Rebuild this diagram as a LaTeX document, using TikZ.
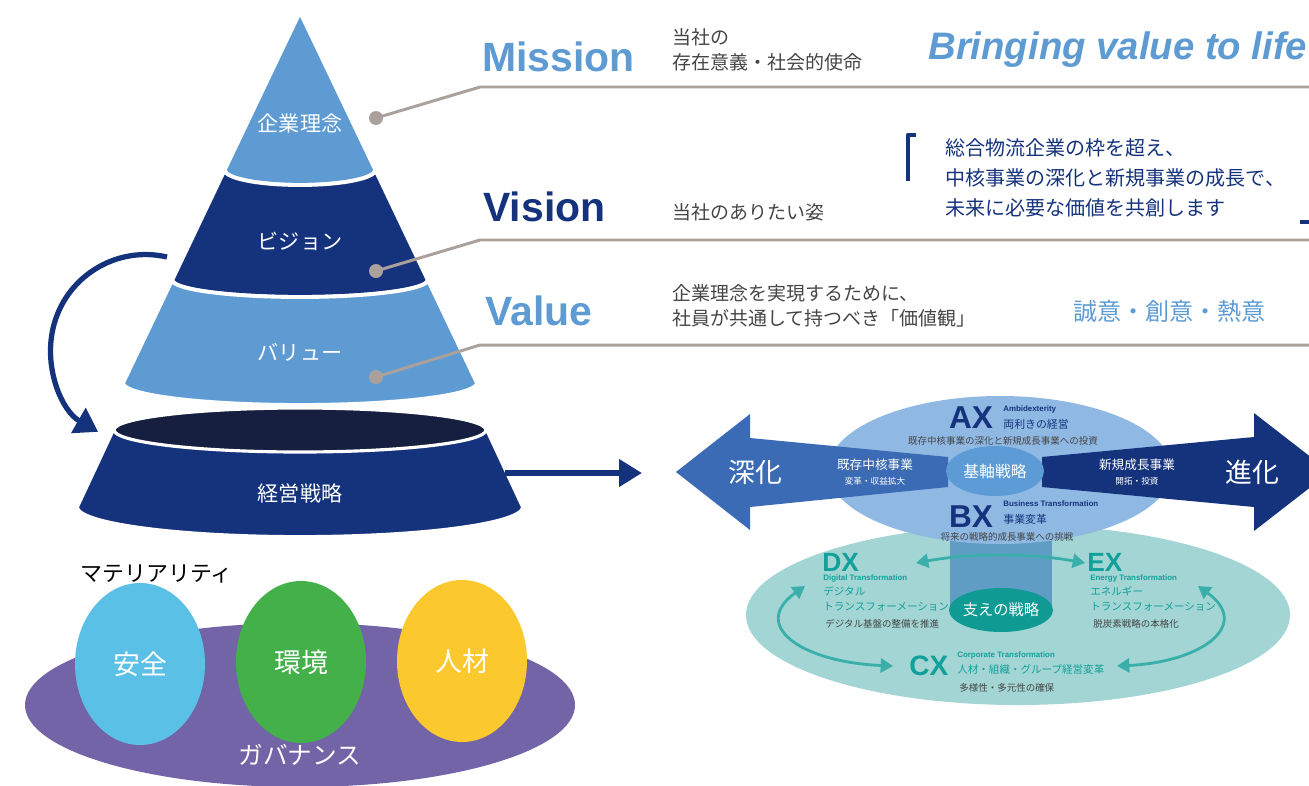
\documentclass[tikz,border=0pt]{standalone}
\usepackage{fontspec}
\setmainfont{Noto Sans CJK JP}
\newfontfamily\latinfont{Liberation Sans}
\newfontfamily\arialfont{Liberation Sans}
\usetikzlibrary{arrows.meta}
\definecolor{skyblue}{HTML}{5E9BD3}
\definecolor{navy}{HTML}{15337C}
\definecolor{darknavy}{HTML}{161F3F}
\definecolor{leadgray}{HTML}{ABA19C}
\definecolor{txtgray}{HTML}{454545}
\definecolor{govpurple}{HTML}{7264A6}
\definecolor{safeblue}{HTML}{5BC0E6}
\definecolor{envgreen}{HTML}{43B04A}
\definecolor{hryellow}{HTML}{FBC82D}
\definecolor{axblue}{HTML}{8FB8E3}
\definecolor{dxteal}{HTML}{A2D5D4}
\definecolor{pillar}{HTML}{5F9DC5}
\definecolor{supteal}{HTML}{0F9A94}
\definecolor{deepblue}{HTML}{3A6BB4}
\definecolor{coreblue}{HTML}{5C9BD5}
\definecolor{tealtxt}{HTML}{12A19A}
\definecolor{tealline}{HTML}{3AAFA9}
\newcommand{\fsz}[2]{\fontsize{#1}{#2}\selectfont}
\begin{document}
\begin{tikzpicture}[x=0.02cm,y=0.02cm,line join=round,
  tier/.style={draw=white,line width=2.2pt},
  tierlabel/.style={text=white,inner sep=0pt,font=\fsz{12pt}{12pt}},
  leader/.style={draw=leadgray,line width=1.7pt},
  heading/.style={anchor=west,inner sep=0pt,font=\latinfont\bfseries\fsz{23.3pt}{23.3pt}},
  note/.style={anchor=west,align=left,inner sep=0pt,text=txtgray,font=\fsz{10.8pt}{14.2pt}},
  blob/.style={text=white,inner sep=0pt,font=\fsz{15.3pt}{15.3pt}},
  xbig/.style={inner sep=0pt,font=\latinfont\bfseries\fsz{15pt}{15pt}},
  xsub/.style={anchor=west,inner sep=0pt,text height=3.3pt,text depth=0.9pt,font=\latinfont\bfseries\fsz{4.5pt}{4.5pt}},
  xjp/.style={anchor=west,inner sep=0pt,text height=5pt,text depth=0.8pt,font=\fsz{6pt}{8pt}},
  xgray/.style={inner sep=0pt,text height=4.5pt,text depth=0.7pt,text=txtgray,font=\fsz{5.4pt}{5.4pt}},
  tealarrow/.style={draw=tealline,line width=1.6pt,
    {Triangle[length=7pt,width=8pt]}-{Triangle[length=7pt,width=8pt]}}]
\useasboundingbox (0,0) rectangle (1309,-785);

% pyramid
\filldraw[tier,fill=skyblue] (300,-12) -- (224.6,-170) arc[start angle=180,end angle=360,x radius=75.4,y radius=15] -- cycle;
\filldraw[tier,fill=navy] (224.6,-170) arc[start angle=180,end angle=360,x radius=75.4,y radius=15]
  -- (427.8,-280) arc[start angle=0,end angle=-180,x radius=127.8,y radius=17] -- cycle;
\filldraw[tier,fill=skyblue] (172.2,-280) arc[start angle=180,end angle=360,x radius=127.8,y radius=17]
  -- (477,-383) arc[start angle=0,end angle=-180,x radius=177,y radius=22] -- cycle;
\node[tierlabel] (philo) at (300,-123) {企業理念};
\node[tierlabel] (vis) at (300,-241) {ビジョン};
\node[tierlabel] (val) at (300,-352) {バリュー};

% base
\filldraw[tier,fill=navy] (112,-432) -- (77,-507) arc[start angle=180,end angle=360,x radius=223,y radius=30]
  -- (488,-432) arc[start angle=0,end angle=180,x radius=188,y radius=22] -- cycle;
\filldraw[tier,fill=darknavy,line width=1.8pt] (300,-430) ellipse[x radius=186,y radius=22];
\node[tierlabel] (strategy) at (300,-493) {経営戦略};

\coordinate (loopStart) at (167,-257);
\draw[navy,line width=3pt,-{Triangle[length=13pt,width=16pt]}] (loopStart) arc[start angle=77,end angle=240,radius=95];
\coordinate (baseRight) at (505,-473);
\coordinate (flowEnd) at (642,-473);
\draw[navy,line width=3.2pt,-{Triangle[length=13pt,width=15pt]}] (baseRight) -- (flowEnd);

% leader lines
\coordinate (missionDot) at (376,-118);
\coordinate (missionKnee) at (480,-87);
\coordinate (missionEnd) at (1312,-87);
\coordinate (visionDot) at (376,-271);
\coordinate (visionKnee) at (480,-240);
\coordinate (visionEnd) at (1312,-240);
\coordinate (valueDot) at (376,-377);
\coordinate (valueKnee) at (480,-345);
\coordinate (valueEnd) at (1312,-345);
\draw[leader] (missionDot) -- (missionKnee) -- (missionEnd);
\draw[leader] (visionDot) -- (visionKnee) -- (visionEnd);
\draw[leader] (valueDot) -- (valueKnee) -- (valueEnd);
\fill[leadgray] (missionDot) circle[radius=7];
\fill[leadgray] (visionDot) circle[radius=7];
\fill[leadgray] (valueDot) circle[radius=7];

% mission / vision / value
\node[heading,text=skyblue] (missionHd) at (482,-57) {Mission};
\node[note] (missionNote) at (672,-50) {当社の\\存在意義・社会的使命};
\node[anchor=west,inner sep=0pt,text=skyblue,font=\arialfont\bfseries\itshape\fsz{21.8pt}{21.8pt}] (motto) at (928,-50) {Bringing value to life};
\node[heading,text=navy] (visionHd) at (483,-207) {Vision};
\node[note] (visionNote) at (672,-212) {当社のありたい姿};
\draw[navy,line width=2.4pt] (916,-135) -- (908,-135) -- (908,-181);
\draw[navy,line width=2.4pt] (1300,-222) -- (1313,-222) -- (1313,-176);
\node[anchor=west,align=left,inner sep=0pt,text=navy,font=\fsz{11.4pt}{17pt}] (visionTxt) at (945,-178)
  {総合物流企業の枠を超え、\\中核事業の深化と新規事業の成長で、\\未来に必要な価値を共創します};
\node[heading,text=skyblue] (valueHd) at (485,-311) {Value};
\node[note] (valueNote) at (672,-305.5) {企業理念を実現するために、\\社員が共通して持つべき「価値観」};
\node[anchor=west,inner sep=0pt,text=skyblue,font=\fsz{13.7pt}{13.7pt}] (valueTxt) at (1073,-311) {誠意・創意・熱意};

% materiality
\node[anchor=west,inner sep=0pt,font=\fsz{12.5pt}{12.5pt}] (matTitle) at (80,-574) {マテリアリティ};
\fill[govpurple] (300,-705) ellipse[x radius=275,y radius=82];
\fill[safeblue] (140,-664) ellipse[x radius=65,y radius=81];
\fill[envgreen] (301,-662) ellipse[x radius=65,y radius=81];
\fill[hryellow] (462,-661) ellipse[x radius=65,y radius=81];
\node[blob] (safety) at (140,-664) {安全};
\node[blob] (environ) at (301,-662) {環境};
\node[blob] (people) at (462,-661) {人材};
\node[blob,font=\fsz{14pt}{14pt}] (govern) at (300,-755) {ガバナンス};

% strategy map
\fill[dxteal] (1018,-615) ellipse[x radius=272,y radius=90];
\fill[pillar] (950,-520) rectangle (1052,-610);
\fill[axblue] (1000,-470) ellipse[x radius=172,y radius=74];
\fill[supteal] (1001,-610) ellipse[x radius=52,y radius=22];
\fill[deepblue] (676,-472) -- (750,-414) -- (750,-438) -- (948,-457) -- (948,-487) -- (750,-507) -- (750,-530) -- cycle;
\fill[navy] (1042,-457) -- (1254,-437) -- (1254,-413) -- (1330,-472) -- (1254,-531) -- (1254,-507) -- (1042,-487) -- cycle;
\fill[coreblue] (995,-471) ellipse[x radius=49,y radius=25];

\node[inner sep=0pt,text=white,font=\fsz{9pt}{9pt}] (core) at (995,-471) {基軸戦略};
\node[blob] (deepen) at (755,-472) {深化};
\node[blob] (evolve) at (1252,-472) {進化};
\node[inner sep=0pt,text=white,font=\fsz{7.2pt}{7.2pt}] (coreBiz) at (875,-465) {既存中核事業};
\node[inner sep=0pt,text=white,font=\fsz{4.9pt}{4.9pt}] (coreBizSub) at (875,-481) {変革・収益拡大};
\node[inner sep=0pt,text=white,font=\fsz{7.2pt}{7.2pt}] (newBiz) at (1137,-465) {新規成長事業};
\node[inner sep=0pt,text=white,font=\fsz{4.9pt}{4.9pt}] (newBizSub) at (1137,-481) {開拓・投資};

\node[xbig,text=navy,font=\latinfont\bfseries\fsz{18pt}{18pt}] (ax) at (971,-418) {AX};
\node[xsub,text=navy] (axEn) at (1003,-409) {Ambidexterity};
\node[xjp,text=navy,font=\fsz{6.2pt}{6.2pt}] (axJp) at (1003,-425) {両利きの経営};
\node[xgray] (axNote) at (1003,-441) {既存中核事業の深化と新規成長事業への投資};
\node[xbig,text=navy,font=\latinfont\bfseries\fsz{18pt}{18pt}] (bx) at (971,-517) {BX};
\node[xsub,text=navy] (bxEn) at (1003,-504) {Business Transformation};
\node[xjp,text=navy,font=\fsz{6.2pt}{6.2pt}] (bxJp) at (1003,-520) {事業変革};
\node[xgray] (bxNote) at (1007,-537) {将来の戦略的成長事業への挑戦};

\node[inner sep=0pt,text=white,font=\fsz{8.7pt}{8.7pt}] (support) at (1001,-610) {支えの戦略};

\node[xbig,anchor=west,text=tealtxt] (dx) at (822,-562) {DX};
\node[xsub,text=tealtxt] (dxEn) at (823,-578) {Digital Transformation};
\node[xjp,text=tealtxt] (dxJp) at (823,-592) {デジタル};
\node[xjp,text=tealtxt] (dxJp2) at (823,-607) {トランスフォーメーション};
\node[xgray,anchor=west] (dxNote) at (825,-624) {デジタル基盤の整備を推進};
\node[xbig,anchor=west,text=tealtxt] (ex) at (1087,-562) {EX};
\node[xsub,text=tealtxt] (exEn) at (1090,-578) {Energy Transformation};
\node[xjp,text=tealtxt] (exJp) at (1090,-592) {エネルギー};
\node[xjp,text=tealtxt] (exJp2) at (1090,-607) {トランスフォーメーション};
\node[xgray,anchor=west] (exNote) at (1093,-624) {脱炭素戦略の本格化};
\node[xbig,anchor=west,text=tealtxt,font=\latinfont\bfseries\fsz{16pt}{16pt}] (cx) at (909,-666) {CX};
\node[xsub,text=tealtxt] (cxEn) at (957,-655) {Corporate Transformation};
\node[xjp,text=tealtxt] (cxJp) at (957,-670) {人材・組織・グループ経営変革};
\node[xgray,anchor=west] (cxNote) at (959,-688) {多様性・多元性の確保};

\coordinate (dxTip) at (916,-563);
\coordinate (exTip) at (1085,-563);
\coordinate (dxLow) at (805,-586);
\coordinate (cxLeft) at (893,-666);
\coordinate (exLow) at (1198,-586);
\coordinate (cxRight) at (1117,-666);
\draw[tealarrow] (dxTip) .. controls (970,-553) and (1030,-553) .. (exTip);
\draw[tealarrow] (dxLow) .. controls (750,-625) and (800,-662) .. (cxLeft);
\draw[tealarrow] (exLow) .. controls (1252,-625) and (1202,-662) .. (cxRight);
\end{tikzpicture}
\end{document}
